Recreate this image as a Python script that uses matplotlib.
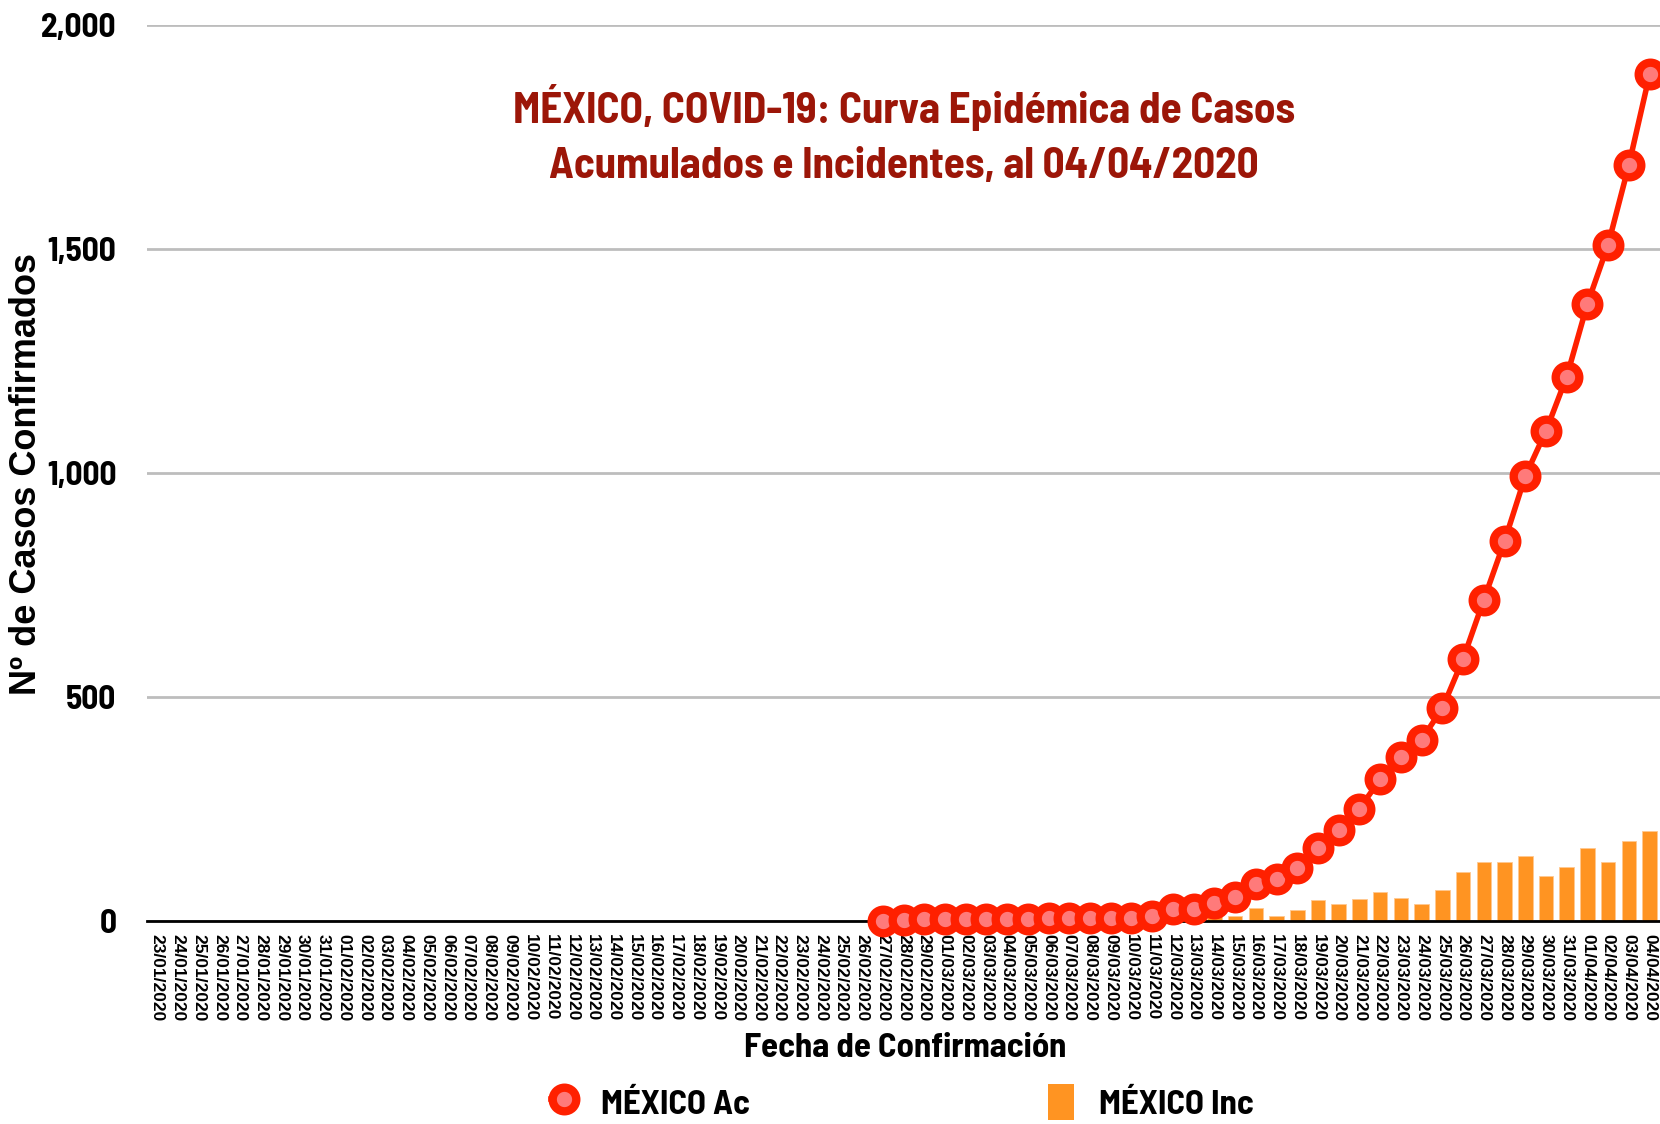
import datetime as dt
import matplotlib
matplotlib.use("Agg")
from matplotlib import pyplot as plt
from matplotlib.lines import Line2D
from matplotlib.patches import Patch

# Dates 23/01/2020 .. 04/04/2020
start = dt.date(2020, 1, 23)
fechas = [(start + dt.timedelta(days=i)).strftime("%d/%m/%Y") for i in range(73)]

# Cumulative cases, starting at 27/02/2020
acumulados = [1, 2, 4, 5, 5, 5, 5, 5, 6, 6, 7, 7, 7, 11, 26, 26, 41, 53, 82, 93,
              118, 164, 203, 251, 316, 367, 405, 475, 585, 717, 848, 993, 1094,
              1215, 1378, 1510, 1688, 1890]
# Daily incident cases, starting at 27/02/2020
incidentes = [1, 1, 2, 1, 0, 0, 0, 0, 1, 0, 1, 0, 0, 4, 15, 0, 15, 12, 29, 11,
              25, 46, 39, 48, 65, 51, 38, 70, 110, 132, 131, 145, 101, 121, 163,
              132, 178, 202]
inicio = fechas.index("27/02/2020")

narrow = ["Barlow Semi Condensed", "Barlow Condensed", "DejaVu Sans"]
arial = ["Liberation Sans", "DejaVu Sans"]
rojo = "#ff2000"
naranja = "#ff9422"

fig = plt.figure(figsize=(16.6, 11.24), dpi=100)
ax = fig.add_axes([147 / 1660, 1 - 921 / 1124, 1 - 147 / 1660, 896 / 1124])

x_sub = list(range(inicio, len(fechas)))
ax.bar(x_sub, incidentes, width=0.7, color=naranja, edgecolor="#ffc890",
       linewidth=0.6, zorder=2)
ax.plot(x_sub, acumulados, color=rojo, linewidth=4, marker="o",
        markersize=17, markerfacecolor="#ff7a7a", markeredgecolor=rojo,
        markeredgewidth=6, zorder=4, clip_on=False)

ax.set_xlim(-0.5, len(fechas) - 0.5)
ax.set_ylim(0, 2000)
ax.set_yticks([0, 500, 1000, 1500, 2000])
ax.set_yticklabels(["0", "500", "1,000", "1,500", "2,000"])
ax.set_xticks(range(len(fechas)))
ax.set_xticklabels(fechas, rotation=270, fontsize=12.5, fontweight="bold",
                   family=arial)
for lab in ax.get_yticklabels():
    lab.set_family(narrow)
    lab.set_fontweight("bold")
    lab.set_fontsize(24)
ax.tick_params(axis="both", length=0)
ax.tick_params(axis="y", pad=22)
ax.tick_params(axis="x", pad=9)

for s in ["top", "right", "left"]:
    ax.spines[s].set_visible(False)
ax.spines["bottom"].set_linewidth(2)
ax.spines["bottom"].set_color("black")
ax.spines["bottom"].set_zorder(3)
ax.yaxis.grid(True, color="#bdbdbd", linewidth=2, zorder=0)
ax.set_axisbelow(True)

fig.text(27 / 1660, 1 - 474 / 1124, "Nº de Casos Confirmados", rotation=90,
         ha="center", va="center", fontsize=26, fontweight="bold", family=arial)
fig.text(905 / 1660, 1 - 1048 / 1124, "Fecha de Confirmación", ha="center",
         va="center", fontsize=25, fontweight="bold", family=narrow)

ax.text((904 - 147) / 1513, (921 - 135) / 896,
        "MÉXICO, COVID-19: Curva Epidémica de Casos\nAcumulados e Incidentes, al 04/04/2020",
        transform=ax.transAxes, ha="center", va="center", fontsize=31,
        fontweight="bold", family=narrow, color="#9c1608", linespacing=1.5)

handles = [Line2D([0], [0], color=rojo, linewidth=4, marker="o", markersize=17,
                  markerfacecolor="#ff7a7a", markeredgecolor=rojo, markeredgewidth=6),
           Patch(facecolor=naranja)]
fig.legend(handles, ["MÉXICO Ac", "MÉXICO Inc"], loc="center",
           bbox_to_anchor=(902 / 1660, 1 - 1102 / 1124), ncol=2, frameon=False,
           handlelength=0.75, handleheight=1.25, columnspacing=8.6, handletextpad=0.7,
           borderpad=0.2, prop={"family": narrow, "weight": "bold", "size": 25})

plt.savefig("out.png", dpi=100)
